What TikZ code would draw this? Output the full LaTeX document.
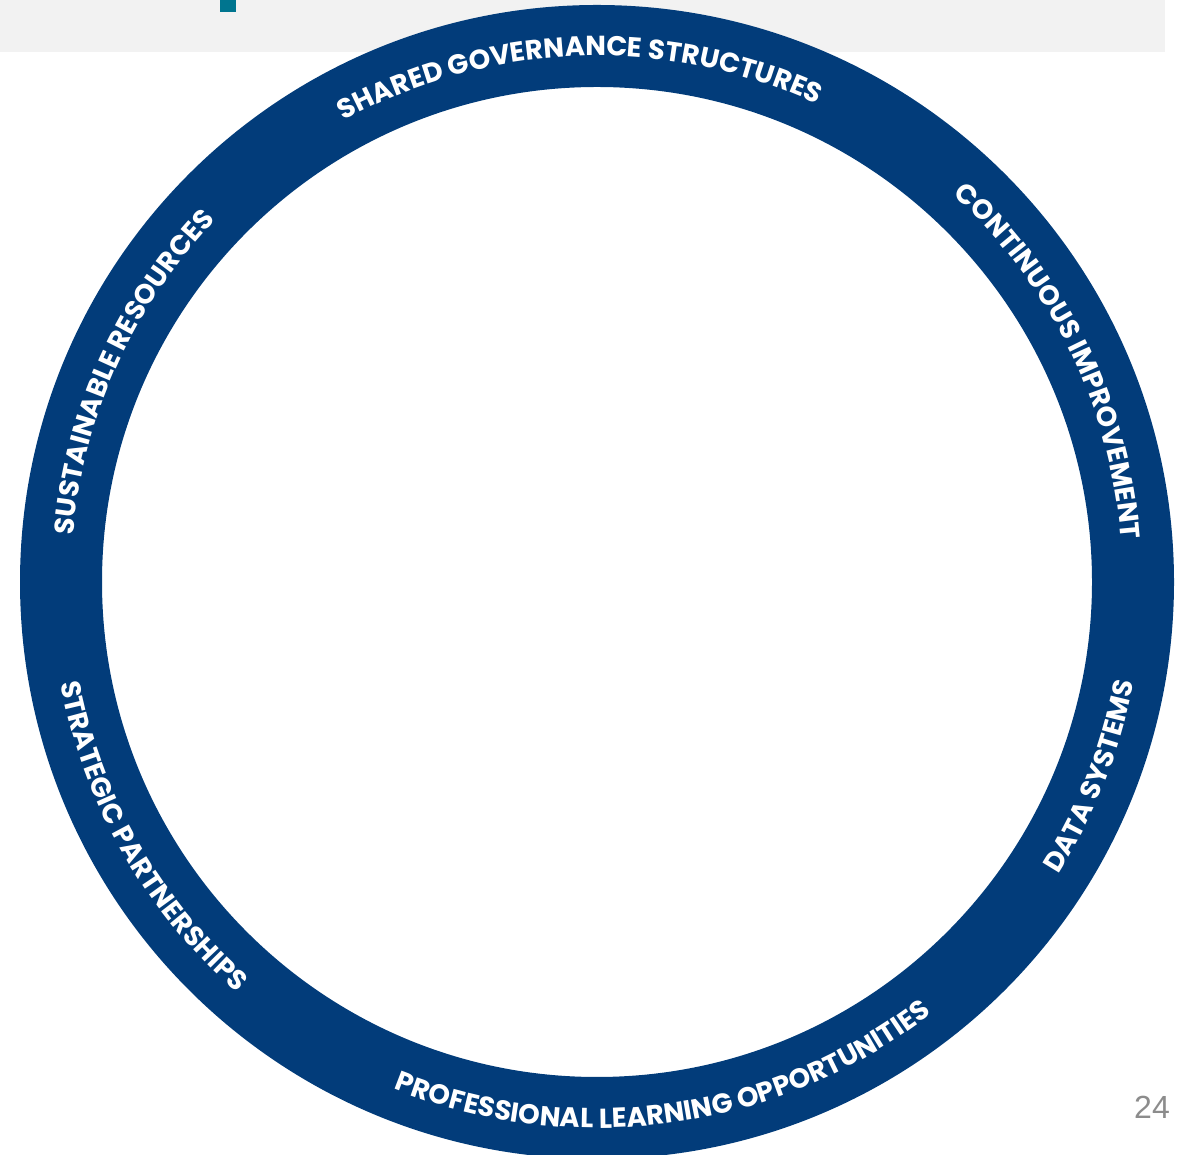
\documentclass[tikz,border=0pt]{standalone}
\usepackage{fontspec}
\setmainfont{Liberation Sans}
\newfontfamily\popfont{Poppins}
\usetikzlibrary{decorations.text}
\definecolor{ringblue}{HTML}{023C7A}
\definecolor{bandgray}{HTML}{F2F2F2}
\definecolor{tealmark}{HTML}{00758F}
\definecolor{numgray}{HTML}{8C8C8C}
\tikzset{
  cwtext/.style={decorate, decoration={text along path, text align=center, text color=white,
     text={|\popfont\bfseries\fontsize{27.5}{27.5}\selectfont|#1}}},
}
\begin{document}
\begin{tikzpicture}[x=1pt,y=1pt]
\useasboundingbox (0,0) rectangle (1178,1154);
\coordinate (c) at (597,572);
\fill[bandgray] (0,1102) rectangle (1165,1154);
\fill[tealmark] (220,1142) rectangle (236,1154);
\fill[ringblue, even odd rule] (c) circle[radius=577] (c) circle[radius=495];
% clockwise (tops outward)
\path[cwtext={SHARED GOVERNANCE STRUCTURES}] (c) ++(162:526) arc[start angle=162, end angle=22, radius=526];
\path[cwtext={CONTINUOUS IMPROVEMENT}] (c) ++(96:526) arc[start angle=96, end angle=-44, radius=526];
\path[cwtext={SUSTAINABLE RESOURCES}] (c) ++(225.7:526) arc[start angle=225.7, end angle=85.7, radius=526];
% counterclockwise (tops inward)
\path[cwtext={DATA SYSTEMS}] (c) ++(-91.5:546) arc[start angle=-91.5, end angle=48.5, radius=546];
\path[cwtext={PROFESSIONAL LEARNING OPPORTUNITIES}] (c) ++(-152:546) arc[start angle=-152, end angle=-12, radius=546];
\path[cwtext={STRATEGIC PARTNERSHIPS}] (c) ++(139.7:546) arc[start angle=139.7, end angle=279.7, radius=546];
\node[text=numgray, font=\fontsize{32}{32}\selectfont, inner sep=0pt] (pagenum) at (1152,47) {24};
\end{tikzpicture}
\end{document}
